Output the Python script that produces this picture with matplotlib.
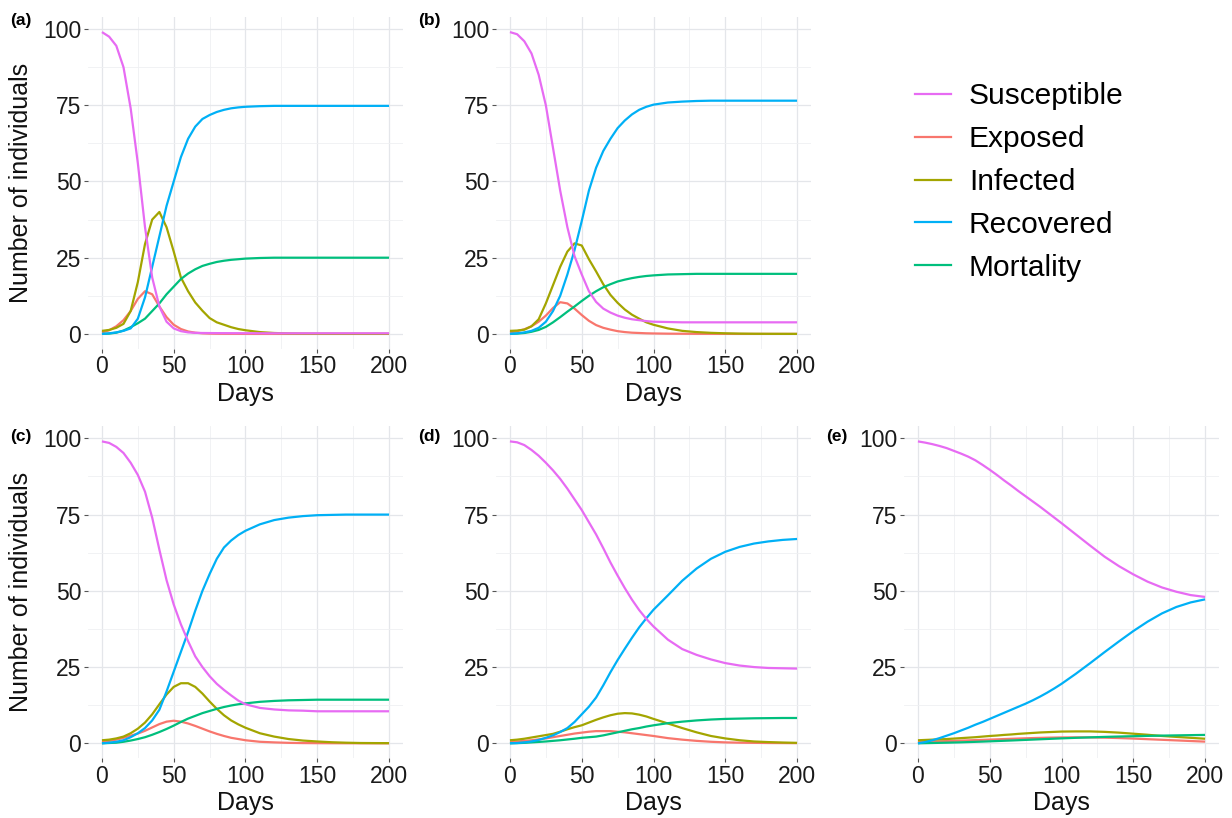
import matplotlib
matplotlib.use("Agg")
import matplotlib.pyplot as plt
from matplotlib.lines import Line2D

plt.rcParams['font.family'] = ['Liberation Sans', 'DejaVu Sans']

days = [0, 5, 10, 15, 20, 25, 30, 35, 40, 45, 50, 55, 60, 65, 70, 75, 80, 85, 90, 95, 100,
        110, 120, 130, 140, 150, 160, 170, 180, 190, 200]

series_names = ['Susceptible', 'Exposed', 'Infected', 'Recovered', 'Mortality']
colors = {'Susceptible': '#E76BF3', 'Exposed': '#F8766D', 'Infected': '#A3A500',
          'Recovered': '#00B0F6', 'Mortality': '#00BF7D'}

# panel (a)
a_S = [99, 97.5, 94.5, 87.5, 74, 56, 35, 18.5, 9, 4, 1.8, 0.9, 0.5, 0.35, 0.3, 0.28, 0.26, 0.25, 0.24, 0.23, 0.22,
       0.21, 0.2, 0.2, 0.2, 0.2, 0.2, 0.2, 0.2, 0.2, 0.2]
a_E = [0.5, 1.2, 2.5, 4.5, 7.5, 11.5, 14, 13, 9, 5.5, 3, 1.6, 0.8, 0.4, 0.2, 0.1, 0.05, 0.03, 0.02, 0.01, 0,
       0, 0, 0, 0, 0, 0, 0, 0, 0, 0]
a_I = [1, 1.3, 2, 3.3, 7.5, 17, 29.5, 37.5, 40, 35, 27, 18.5, 14, 10.3, 7.6, 5.2, 3.8, 3, 2.2, 1.6, 1.2,
       0.6, 0.3, 0.15, 0.08, 0.05, 0.03, 0.02, 0.01, 0.01, 0.01]
a_R = [0, 0.2, 0.5, 1.0, 1.8, 5, 12, 22, 32, 42, 50, 58, 64, 68, 70.5, 71.8, 72.8, 73.5, 74, 74.3, 74.5,
       74.7, 74.8, 74.8, 74.8, 74.8, 74.8, 74.8, 74.8, 74.8, 74.8]
a_M = [0, 0.1, 0.4, 1.1, 2.2, 3.5, 5, 7.5, 10, 13, 15.5, 18, 19.8, 21.2, 22.3, 23, 23.6, 24, 24.3, 24.5, 24.7,
       24.9, 25, 25, 25, 25, 25, 25, 25, 25, 25]

# panel (b)
b_S = [99, 98.3, 96, 92, 85, 75, 61, 47, 35, 25.5, 19.5, 14, 10.5, 8.3, 7, 6, 5.3, 4.8, 4.5, 4.2, 4.0,
       3.9, 3.8, 3.8, 3.8, 3.8, 3.8, 3.8, 3.8, 3.8, 3.8]
b_E = [0.5, 0.9, 1.5, 2.5, 4, 6, 8.5, 10.4, 10, 8.3, 6.2, 4.3, 2.9, 2, 1.4, 0.9, 0.6, 0.4, 0.3, 0.2, 0.15,
       0.08, 0.05, 0.03, 0.02, 0.01, 0, 0, 0, 0, 0]
b_I = [1, 1.1, 1.4, 2.5, 4.8, 10, 16, 22, 27, 29.7, 29, 24.5, 20.5, 16.3, 12.8, 10.2, 8, 6.3, 5, 3.8, 3,
       1.8, 1, 0.6, 0.35, 0.2, 0.1, 0.05, 0.03, 0.02, 0.01]
b_R = [0, 0.2, 0.5, 1, 2, 4, 7.5, 12.5, 19.5, 27.5, 37, 47, 54.5, 60, 64, 67.5, 70, 72, 73.5, 74.5, 75.2,
       75.9, 76.2, 76.4, 76.5, 76.5, 76.5, 76.5, 76.5, 76.5, 76.5]
b_M = [0, 0.1, 0.3, 0.7, 1.3, 2.3, 3.8, 5.5, 7.3, 9, 10.8, 12.5, 14, 15.3, 16.3, 17.2, 17.8, 18.3, 18.7, 19, 19.2,
       19.5, 19.6, 19.7, 19.7, 19.7, 19.7, 19.7, 19.7, 19.7, 19.7]

# panel (c)
c_S = [99, 98.5, 97.2, 95.2, 92, 88, 82.5, 74, 63.5, 53.5, 45.5, 39, 33.5, 28.5, 25, 22, 19.5, 17.5, 15.7, 14, 12.8,
       11.6, 11.1, 10.8, 10.7, 10.5, 10.5, 10.5, 10.5, 10.5, 10.5]
c_E = [0.5, 0.8, 1.2, 1.8, 2.5, 3.2, 4.1, 5.2, 6.3, 7.1, 7.4, 7.1, 6.5, 5.7, 4.8, 3.9, 3.1, 2.4, 1.8, 1.4, 1.0,
       0.5, 0.3, 0.15, 0.08, 0.05, 0.03, 0.02, 0.01, 0.01, 0]
c_I = [1, 1.2, 1.6, 2.2, 3.3, 4.8, 6.8, 9.5, 12.8, 16, 18.5, 19.7, 19.7, 18.5, 16.3, 13.7, 11.3, 9.2, 7.5, 6.2, 5.1,
       3.3, 2.2, 1.4, 0.9, 0.6, 0.35, 0.2, 0.1, 0.07, 0.05]
c_R = [0, 0.2, 0.5, 1, 2, 3.3, 5, 7.5, 11, 17, 23.5, 30, 36.5, 43.5, 50, 55.5, 60.5, 64.2, 66.5, 68.3, 69.7,
       71.8, 73.2, 74, 74.5, 74.8, 74.9, 75, 75, 75, 75]
c_M = [0, 0.1, 0.2, 0.5, 0.9, 1.4, 2, 2.8, 3.7, 4.7, 5.8, 7, 8.1, 9, 9.9, 10.6, 11.3, 11.9, 12.4, 12.8, 13.1,
       13.6, 13.9, 14.1, 14.2, 14.3, 14.3, 14.3, 14.3, 14.3, 14.3]

# panel (d)
d_S = [99, 98.7, 97.8, 96.2, 94.3, 92, 89.5, 86.7, 83.5, 80, 76.5, 72.5, 68.5, 64, 59.3, 55, 50.9, 47.1, 43.7, 40.8, 38.3,
       34, 30.9, 29, 27.5, 26.3, 25.5, 25, 24.7, 24.6, 24.5]
d_E = [0.5, 0.6, 0.8, 1, 1.3, 1.6, 2, 2.4, 2.8, 3.2, 3.5, 3.8, 4, 4, 4, 3.8, 3.6, 3.3, 3, 2.7, 2.4,
       1.7, 1.2, 0.8, 0.5, 0.3, 0.2, 0.15, 0.1, 0.08, 0.05]
d_I = [1, 1.2, 1.5, 1.9, 2.3, 2.7, 3.1, 3.8, 4.6, 5.3, 5.9, 6.8, 7.7, 8.5, 9.2, 9.7, 9.9, 9.8, 9.4, 8.8, 8.0,
       6.5, 5, 3.6, 2.4, 1.6, 1, 0.6, 0.4, 0.25, 0.15]
d_R = [0, 0.1, 0.3, 0.6, 1.1, 1.8, 2.6, 3.7, 5, 7, 9.5, 12, 15, 19, 23.3, 27.3, 31, 34.6, 38, 41, 43.8,
       48.5, 53.3, 57.3, 60.5, 62.8, 64.4, 65.5, 66.2, 66.7, 67]
d_M = [0, 0.05, 0.15, 0.3, 0.45, 0.6, 0.8, 1.0, 1.25, 1.5, 1.8, 2.0, 2.2, 2.6, 3.1, 3.6, 4.1, 4.6, 5.0, 5.5, 5.9,
       6.6, 7.1, 7.5, 7.8, 8, 8.1, 8.2, 8.25, 8.3, 8.3]

# panel (e)
e_S = [99, 98.6, 98.1, 97.5, 96.8, 95.9, 95, 94, 92.8, 91.3, 89.7, 88, 86.2, 84.5, 82.7, 81, 79.3, 77.6, 75.8, 74, 72.2,
       68.5, 64.8, 61.2, 58.1, 55.4, 53, 51.1, 49.7, 48.6, 48]
e_E = [0.5, 0.55, 0.6, 0.65, 0.72, 0.8, 0.88, 0.96, 1.05, 1.13, 1.22, 1.3, 1.4, 1.48, 1.56, 1.64, 1.72, 1.78, 1.84, 1.88, 1.92,
       1.95, 1.93, 1.85, 1.72, 1.55, 1.35, 1.15, 0.95, 0.75, 0.55]
e_I = [1, 1.1, 1.2, 1.3, 1.4, 1.55, 1.7, 1.85, 2, 2.2, 2.4, 2.55, 2.75, 2.9, 3.1, 3.25, 3.4, 3.55, 3.65, 3.75, 3.85,
       3.9, 3.9, 3.75, 3.5, 3.15, 2.8, 2.4, 2.1, 1.8, 1.5]
e_R = [0, 0.4, 1.0, 1.7, 2.5, 3.3, 4.2, 5.1, 6.1, 7.0, 8.0, 9.0, 10, 11, 12, 13, 14.1, 15.3, 16.6, 18, 19.5,
       22.8, 26.3, 29.9, 33.4, 36.8, 39.9, 42.6, 44.7, 46.2, 47.2]
e_M = [0, 0.05, 0.1, 0.15, 0.2, 0.26, 0.32, 0.4, 0.48, 0.56, 0.65, 0.74, 0.83, 0.92, 1.02, 1.12, 1.22, 1.32, 1.42, 1.52, 1.62,
       1.8, 1.95, 2.1, 2.22, 2.33, 2.43, 2.52, 2.6, 2.68, 2.75]

panels = {
    '(a)': {'Susceptible': a_S, 'Exposed': a_E, 'Infected': a_I, 'Recovered': a_R, 'Mortality': a_M},
    '(b)': {'Susceptible': b_S, 'Exposed': b_E, 'Infected': b_I, 'Recovered': b_R, 'Mortality': b_M},
    '(c)': {'Susceptible': c_S, 'Exposed': c_E, 'Infected': c_I, 'Recovered': c_R, 'Mortality': c_M},
    '(d)': {'Susceptible': d_S, 'Exposed': d_E, 'Infected': d_I, 'Recovered': d_R, 'Mortality': d_M},
    '(e)': {'Susceptible': e_S, 'Exposed': e_E, 'Infected': e_I, 'Recovered': e_R, 'Mortality': e_M},
}

#%% layout (pixel boxes: left, top, right, bottom) and label positions
W, H = 1232, 818
boxes = {
    '(a)': (87.6, 17, 403.4, 349),
    '(b)': (495.6, 17, 811.4, 349),
    '(c)': (87.6, 426.3, 403.4, 758.4),
    '(d)': (495.6, 426.3, 811.4, 758.4),
    '(e)': (903.6, 426.3, 1219.4, 758.4),
}
tag_pos = {'(a)': (10, 21), '(b)': (418, 21), '(c)': (10, 436), '(d)': (418, 436), '(e)': (826, 436)}

fig = plt.figure(figsize=(W / 100, H / 100), dpi=100)

# ggplot draws groups in factor (alphabetical) order
draw_order = ['Exposed', 'Infected', 'Mortality', 'Recovered', 'Susceptible']

for tag, data in panels.items():
    l, t, r, b = boxes[tag]
    ax = fig.add_axes([l / W, 1 - b / H, (r - l) / W, (b - t) / H])
    for name in draw_order:
        ax.plot(days, data[name], color=colors[name], lw=1.6, solid_capstyle='butt')

    ax.set_xlim(-10, 210)
    ax.set_ylim(-4.95, 103.95)
    ax.set_xticks([0, 50, 100, 150, 200])
    ax.set_xticks([25, 75, 125, 175], minor=True)
    ax.set_yticks([0, 25, 50, 75, 100])
    ax.set_yticks([12.5, 37.5, 62.5, 87.5], minor=True)
    ax.grid(which='major', color='#e4e6ea', lw=0.9)
    ax.grid(which='minor', color='#eff0f2', lw=0.6)
    ax.set_axisbelow(True)
    for s in ax.spines.values():
        s.set_visible(False)
    ax.tick_params(which='major', length=3, width=0.8, color='#555555',
                   labelsize=16.5, labelcolor='#1a1a1a', pad=1.5)
    ax.tick_params(which='minor', length=0)
    ax.set_xlabel('Days', fontsize=18, labelpad=2.5, color='#111111')
    if tag in ('(a)', '(c)'):
        ax.set_ylabel('Number of individuals', fontsize=18, labelpad=7, color='#111111')

    tx, ty = tag_pos[tag]
    fig.text(tx / W, 1 - ty / H, tag, fontsize=12.5, fontweight='bold', va='center', ha='left')

handles = [Line2D([0], [0], color=colors[n], lw=1.6) for n in series_names]
fig.legend(handles, series_names, loc='center left', bbox_to_anchor=(915 / W, 1 - 182 / H),
           frameon=False, fontsize=21.5, handlelength=1.2, handletextpad=0.6,
           labelspacing=0.5, borderpad=0, borderaxespad=0)

fig.savefig('out.png', dpi=100)
